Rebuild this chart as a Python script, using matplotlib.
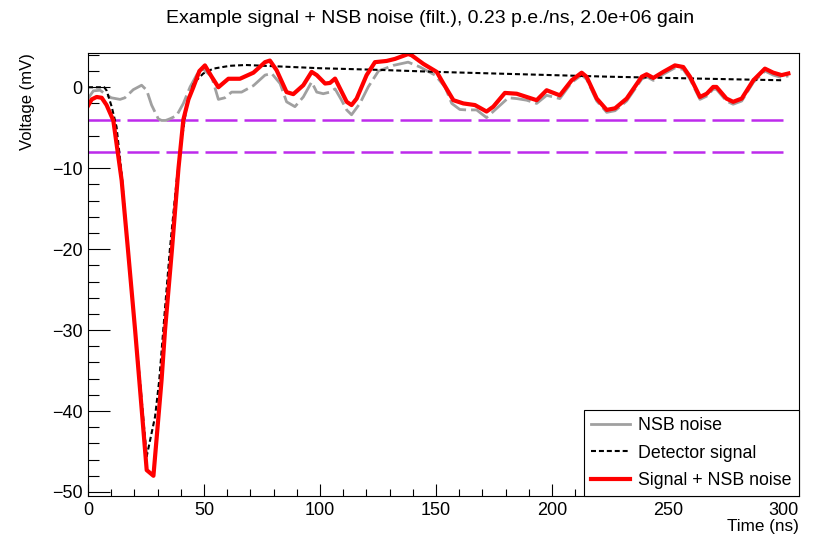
import matplotlib
matplotlib.use("Agg")
import matplotlib.pyplot as plt
from matplotlib.ticker import MultipleLocator

plt.rcParams['font.family'] = ['Liberation Sans', 'DejaVu Sans']

# NSB noise alone (mV)
noise_t = [0.0, 2.3, 5.2, 7.3, 10.0, 13.8, 15.9, 19.5, 23.1, 25.3, 27.4, 30.3, 31.7, 33.5, 35.3,
           38.2, 41.1, 44.0, 47.0, 49.5, 53.3, 56.2, 59.0, 61.9, 66.2, 71.3, 76.3, 79.2, 82.8,
           85.6, 89.2, 92.8, 96.4, 98.6, 101.4, 104.3, 106.5, 109.3, 111.5, 113.6, 117.2, 120.8,
           125.2, 131.6, 138.0, 143.1, 149.6, 153.9, 156.8, 160.3, 163.2, 167.5, 171.8, 176.2,
           181.2, 184.8, 189.1, 193.4, 197.7, 203.4, 208.5, 212.8, 214.9, 219.3, 223.6, 227.2,
           232.2, 238.7, 240.8, 243.7, 248.0, 253.0, 256.6, 259.5, 263.8, 266.7, 269.5, 270.9,
           275.2, 278.1, 281.8, 286.8, 291.8, 295.4, 299.0, 301.9]
noise_v = [-1.4, -0.45, -0.37, -0.8, -1.3, -1.5, -1.3, -0.3, 0.25, -0.37, -2.2, -3.9, -4.1, -4.1, -3.9,
           -3.5, -2.0, 0.04, 1.6, 2.3, 1.3, -1.5, -1.3, -0.6, -0.6, 0.2, 1.5, 1.7, 0.46,
           -1.8, -2.4, -1.2, 0.65, -0.6, -0.8, -0.6, -0.2, -1.6, -2.8, -3.4, -2.0, 0.04,
           2.0, 2.7, 3.1, 2.5, 1.5, 0.04, -2.0, -2.75, -2.8, -2.8, -3.75, -2.6,
           -1.3, -1.4, -1.6, -2.0, -1.0, -1.4, 0.6, 1.5, 1.0, -1.7, -3.1, -2.9,
           -1.7, 1.0, 1.3, 0.85, 1.6, 2.4, 2.2, 1.0, -1.5, -1.1, -0.25, -0.25,
           -1.7, -2.1, -1.7, 0.6, 2.0, 1.5, 1.2, 1.4]

# detector signal (mV)
sig_t = [0.0, 7.0, 8.0, 10.2, 12.3, 14.5, 17.2, 20.3, 22.4, 24.0, 25.3, 28.9, 30.7, 33.0, 35.3,
         38.2, 40.4, 42.5, 45.4, 49.7, 54.0, 61.2, 68.0, 80.0, 100.0, 125.0, 150.0, 175.0,
         200.0, 225.0, 250.0, 275.0, 300.0]
sig_v = [0.0, 0.0, -0.4, -2.4, -4.9, -10.7, -20.0, -30.0, -36.2, -41.5, -45.6, -40.7, -36.2, -28.0, -20.0,
         -11.5, -6.5, -2.4, 0.46, 1.7, 2.3, 2.65, 2.75, 2.6, 2.35, 2.15, 1.9, 1.7,
         1.5, 1.3, 1.15, 1.0, 0.86]

# signal + NSB noise (mV)
sum_t = [0.0, 1.6, 3.7, 5.9, 8.0, 10.9, 14.5, 17.2, 20.3, 22.1, 25.3, 28.2, 31.7, 33.2, 36.2,
         39.0, 41.1, 43.3, 45.4, 48.0, 50.4, 53.3, 56.2, 60.5, 65.5, 71.3, 76.3, 78.4, 81.3,
         85.6, 88.5, 92.8, 96.4, 98.6, 102.2, 104.3, 106.5, 111.5, 113.6, 115.8, 120.1, 123.7,
         128.7, 132.3, 138.0, 139.5, 144.5, 150.3, 153.2, 157.5, 161.8, 166.8, 171.8, 174.7,
         179.7, 184.8, 193.4, 197.7, 203.4, 208.5, 212.8, 214.9, 219.3, 223.6, 227.2, 232.2,
         238.7, 240.8, 243.7, 248.0, 253.0, 256.6, 259.5, 263.8, 266.7, 269.5, 270.9, 275.2,
         278.1, 281.8, 286.8, 291.8, 295.4, 299.0, 301.9]
sum_v = [-2.3, -1.5, -1.2, -1.3, -2.2, -4.1, -11.5, -20.0, -30.0, -36.2, -47.3, -48.0, -36.2, -30.0, -20.0,
         -10.0, -4.0, -1.5, 0.0, 2.0, 2.7, 1.3, 0.0, 1.05, 1.05, 1.8, 3.1, 3.3, 2.1,
         -0.6, -0.85, 0.25, 1.9, 1.5, 0.46, 0.53, 1.07, -1.8, -2.2, -1.4, 1.5, 3.1,
         3.25, 3.5, 4.1, 3.95, 2.9, 1.9, 0.46, -1.6, -2.0, -2.2, -3.0, -2.4,
         -0.7, -0.8, -1.6, -0.37, -1.0, 0.86, 1.8, 1.3, -1.4, -2.8, -2.6, -1.4,
         1.3, 1.6, 1.15, 1.9, 2.7, 2.5, 1.3, -1.2, -0.8, 0.04, 0.04, -1.4,
         -1.8, -1.4, 0.86, 2.3, 1.8, 1.5, 1.7]

thresholds = [-4, -8]

fig = plt.figure(figsize=(8.18, 5.36), dpi=100)
ax = fig.add_axes([0.1076, 0.0746, 0.8692, 0.8265])

ax.hlines(thresholds, 0, 300, colors='#bd2bec', linewidth=1.8,
          linestyles=(0, (12.8, 2.8)))
ax.plot(noise_t, noise_v, color='#a0a0a0', linewidth=2.0, dashes=(7.2, 1.8), label='NSB noise')
ax.plot(sig_t, sig_v, color='black', linewidth=1.5, dashes=(2.4, 1.4), label='Detector signal')
ax.plot(sum_t, sum_v, color='red', linewidth=3.0, label='Signal + NSB noise')

ax.set_xlim(0, 306.5)
ax.set_ylim(-50.5, 4.23)
ax.xaxis.set_major_locator(MultipleLocator(50))
ax.xaxis.set_minor_locator(MultipleLocator(10))
ax.yaxis.set_major_locator(MultipleLocator(10))
ax.yaxis.set_minor_locator(MultipleLocator(2))
ax.tick_params(axis='x', which='major', direction='in', length=8.6, width=0.8, labelsize=13, pad=4)
ax.tick_params(axis='x', which='minor', direction='in', length=5, width=0.8)
ax.tick_params(axis='y', which='major', direction='in', length=15.8, width=0.8, labelsize=13, pad=4)
ax.tick_params(axis='y', which='minor', direction='in', length=8, width=0.8)
for s in ax.spines.values():
    s.set_linewidth(0.8)

ax.set_xlabel('Time (ns)', loc='right', fontsize=12.3, labelpad=0)
ax.set_ylabel('Voltage (mV)', loc='top', fontsize=12, labelpad=12)

fig.text(0.526, 0.966, 'Example signal + NSB noise (filt.), 0.23 p.e./ns, 2.0e+06 gain',
         ha='center', va='center', fontsize=14)

leg = ax.legend(loc='lower right', borderaxespad=0, fontsize=12.8, handlelength=2.2,
                handletextpad=0.45, labelspacing=0.58, borderpad=0.4, fancybox=False,
                edgecolor='black', framealpha=1)
leg.get_frame().set_linewidth(0.8)
leg.get_lines()[0].set_linestyle('-')

fig.savefig('out.png', dpi=100)
